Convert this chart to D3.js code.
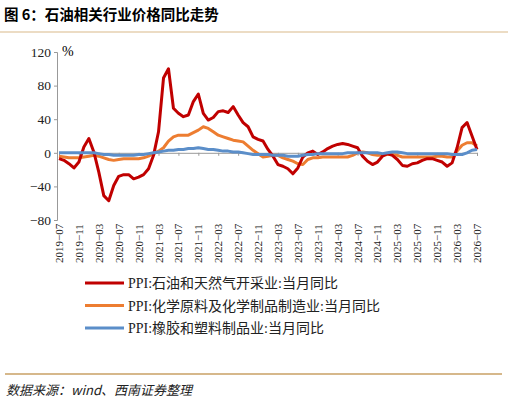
<!DOCTYPE html><html><head><meta charset="utf-8"><script src="https://cdn.jsdelivr.net/npm/d3@7"></script>
<style>body{margin:0;background:#fff}</style></head><body><svg id="c" width="508" height="404"></svg><script>
const red=[-7,-9,-13,-18,-11,7,17,1,-23,-51,-57,-39,-28,-26,-26,-31,-29,-26,-19,-3,25,89,100,53,47,43,45,61,70,47,39,42,49,50,48,55,45,36,31,19,16,14,4,-4,-14,-16,-19,-25,-18,-5,0,2,-2,1,5,8,10,11,10,8,6,-4,-10,-14,-11,-4,-1,-3,-8,-15,-16,-13,-12,-9,-7,-7,-9,-11,-16,-12,6,30,36,20,4];
const orange=[-4,-5,-6,-6,-6,-5,-4,-3,-4,-6,-8,-9,-8,-7,-7,-7,-7,-6,-4,-1,2,6,14,19,21,21,21,24,27,31,29,25,21,19,17,15,14,13,8,3,-1,-5,-4,-3,-3,-6,-8,-10,-13,-14,-8,-6,-6,-5,-5,-5,-5,-5,-5,-3,0,1,0,-2,-3,-3,-2,-2,-3,-5,-5,-5,-5,-5,-5,-5,-4,-4,-5,-5,2,9,12,12,8];
const blue=[0,0,0,0,0,0,0,0,-1,-2,-2,-3,-3,-3,-3,-3,-2,-2,-1,0,1,2,3,3,4,4,5,5,6,5,4,4,3,2,2,1,1,0,-1,-2,-2,-2,-2,-3,-3,-3,-4,-4,-4,-3,-2,-2,-1,-1,-1,-1,-1,-1,0,0,0,0,0,0,0,-1,0,1,1,0,-1,-1,-1,-1,-1,-1,-1,-1,-1,-2,-2,-2,0,3,4,4];
const months=d3.range(85).map(i=>{const m=6+i;return (2019+Math.floor(m/12))+"-"+String(m%12+1).padStart(2,"0");});
const tickLabels=months.filter((d,i)=>i%4===0);
const yTicks=[-80,-40,0,40,80,120];
const names=["PPI:石油和天然气开采业:当月同比","PPI:化学原料及化学制品制造业:当月同比","PPI:橡胶和塑料制品业:当月同比"];
const colors=["#c00000","#ed7d31","#5b8ec9"];
const serif="'Liberation Serif','Times New Roman',serif";
const svg=d3.select("#c");
svg.append("text").attr("x",4).attr("y",20).attr("font-size",14.5).attr("font-weight","bold").attr("font-family","Noto Sans CJK SC").text("图 6：石油相关行业价格同比走势");
svg.append("line").attr("x1",0).attr("x2",508).attr("y1",32).attr("y2",32).attr("stroke","#d9b98a").attr("stroke-width",1.2);
svg.append("line").attr("x1",5).attr("x2",502).attr("y1",374).attr("y2",374).attr("stroke","#c9a064").attr("stroke-width",1.5);
const x=d3.scalePoint().domain(months).range([59,477]);
const y=d3.scaleLinear().domain([-80,120]).range([220,52]);
const ya=svg.append("g").attr("transform","translate(57,0)").call(d3.axisLeft(y).tickValues(yTicks).tickSize(3).tickFormat(d=>d<0?"−"+(-d):d));
ya.select(".domain").attr("stroke","#999");ya.selectAll(".tick line").attr("stroke","#999");
ya.selectAll("text").attr("font-family",serif).attr("font-size",13.5).attr("fill","#222");
svg.append("text").attr("x",62).attr("y",56).attr("font-family",serif).attr("font-size",14).text("%");
const xa=svg.append("g").attr("transform",`translate(0,${y(0)})`).call(d3.axisBottom(x).tickValues(tickLabels).tickSize(3).tickFormat(""));
xa.select(".domain").attr("stroke","#999");xa.selectAll(".tick line").attr("stroke","#999");
svg.append("g").selectAll("text").data(tickLabels).join("text").attr("transform",d=>`translate(${x(d)+4},263) rotate(-90)`).attr("font-family",serif).attr("font-size",11).attr("fill","#222").text(d=>d.replace("-","−"));
const line=d3.line().x((d,i)=>x(months[i])).y(d=>y(d));
[[orange,1],[red,0],[blue,2]].forEach(([s,k])=>svg.append("path").datum(s).attr("d",line).attr("fill","none").attr("stroke",colors[k]).attr("stroke-width",3).attr("stroke-linejoin","round"));
const lg=svg.append("g");
names.forEach((n,i)=>{const yy=283+i*22.5;
lg.append("line").attr("x1",85).attr("x2",124).attr("y1",yy).attr("y2",yy).attr("stroke",colors[i]).attr("stroke-width",3);
lg.append("text").attr("x",128).attr("y",yy+5).attr("font-size",14).attr("font-family","'Liberation Serif','Noto Sans CJK SC'").attr("fill","#222").text(n);});
svg.append("text").attr("x",6).attr("y",395).attr("font-size",13).attr("font-style","italic").attr("font-family","Noto Sans CJK SC").attr("fill","#222").text("数据来源：wind、西南证券整理");
</script></body></html>
